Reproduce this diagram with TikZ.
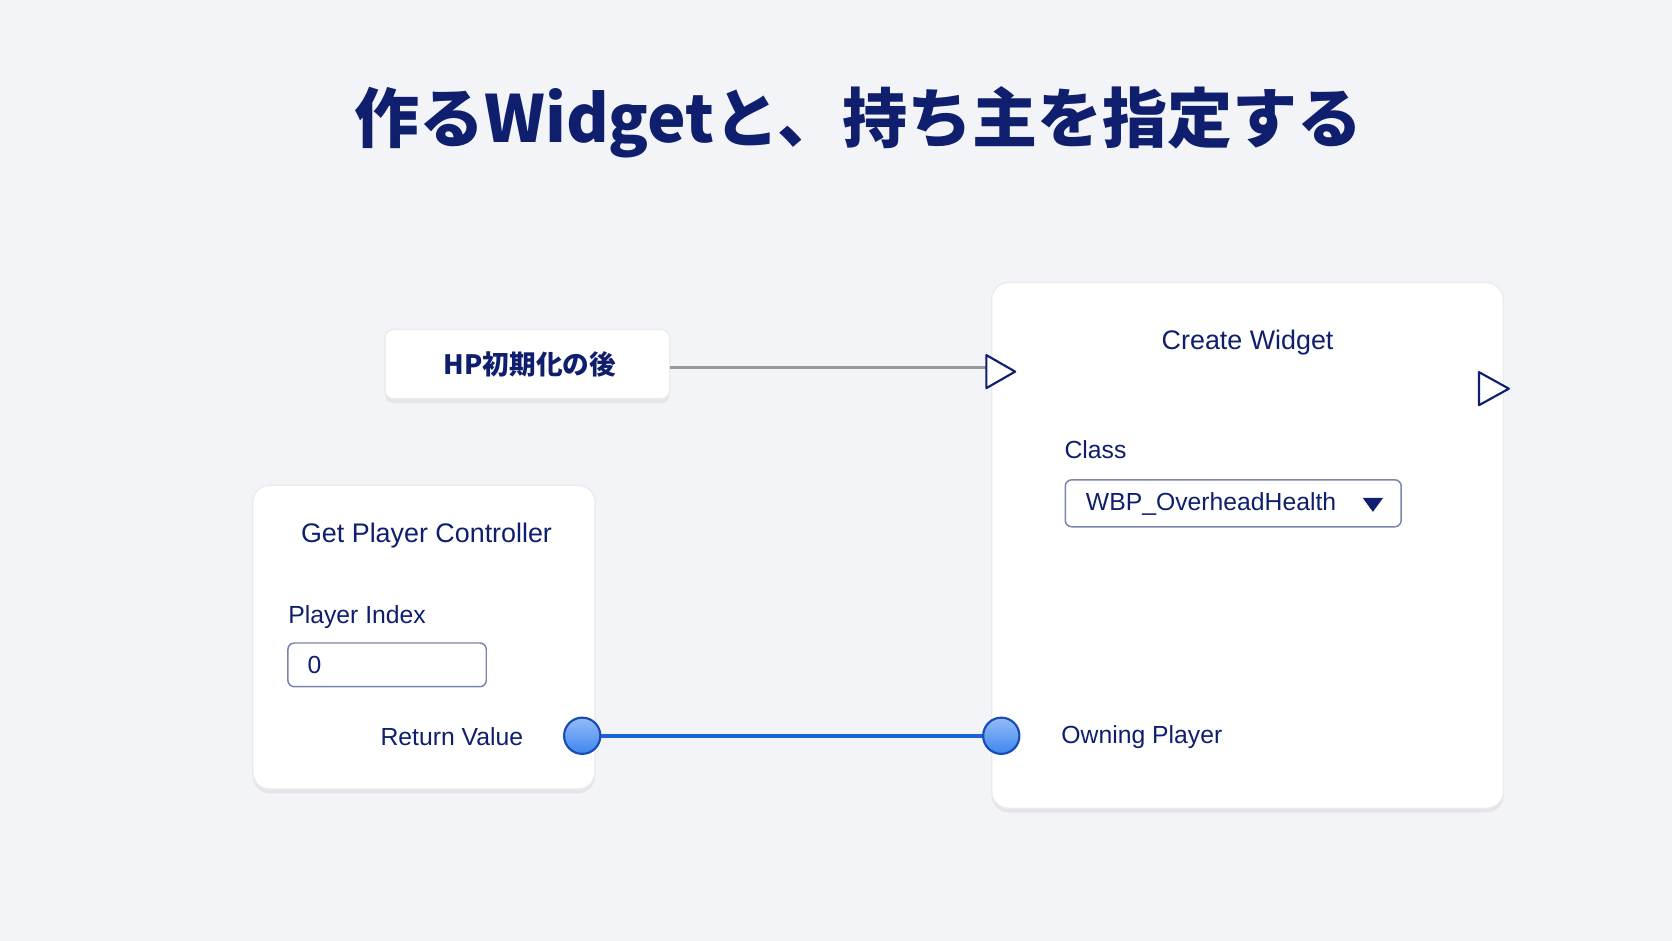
\documentclass[tikz,border=0pt]{standalone}
\usepackage{fontspec}
\setmainfont{Liberation Sans}
\newfontfamily\cjk{Noto Sans CJK JP}
\usetikzlibrary{shadows,shapes.geometric}
\definecolor{navy}{HTML}{0F1F6E}
\definecolor{bg}{HTML}{F3F4F7}
\definecolor{pinblue}{HTML}{3D86F0}
\definecolor{wireblue}{HTML}{1E5FE0}
\tikzset{
  card/.style={draw=black!8, fill=white, rounded corners=8pt, line width=0.6pt,
    drop shadow={shadow xshift=0pt, shadow yshift=-2pt, opacity=0.12}},
  lbl/.style={text=navy, font=\fontsize{11.6}{14}\selectfont, inner sep=0pt},
  ttl/.style={text=navy, font=\fontsize{12.6}{15}\selectfont, inner sep=0pt},
  field/.style={draw=navy!55, fill=white, rounded corners=3pt, line width=0.7pt},
  exec/.style={draw=navy, fill=white, line width=1pt, line join=round},
  pin/.style={circle, draw=wireblue!80!black, line width=1pt, top color=pinblue!55, bottom color=pinblue, minimum size=17pt, inner sep=0pt},
}
\begin{document}
\begin{tikzpicture}[x=0.5pt,y=-0.5pt]
\fill[bg] (0,0) rectangle (1568,882);
\useasboundingbox (0,0) rectangle (1568,882);
\node[text=navy, font=\cjk\bfseries\fontsize{30.5}{34}\selectfont] (title) at (805,115) {作るWidgetと、持ち主を指定する};

% HP node
\node[card, minimum width=133.5pt, minimum height=32.5pt, inner sep=0pt, rounded corners=4pt] (hp) at (494.5,341.5) {};
\node[text=navy, font=\cjk\bfseries\fontsize{12.5}{14}\selectfont] (hpt) at (497,342) {HP初期化の後};

% Create widget
\path[card] (930,265) rectangle (1410,758);
\node[ttl] (cwt) at (1170,321) {Create Widget};
\node[lbl, anchor=west] (cls) at (998,422) {Class};
\node[field, minimum width=157.5pt, minimum height=22pt] (dd) at (1156.5,472) {};
\node[lbl, anchor=west] (ddt) at (1018,473) {WBP\_OverheadHealth};
\fill[navy] (1278,467) -- (1297,467) -- (1287.5,480) -- cycle;
\coordinate (inx) at (925,345);
\draw[black!40, line width=1.5pt] (hp.east |- inx) -- (inx);
\draw[exec] (925,333) -- (925,364) -- (952,348.5) -- cycle;
\draw[exec] (1387,349) -- (1387,380) -- (1415,364.5) -- cycle;
\node[lbl, anchor=west] (ownt) at (995,691) {Owning Player};

% Get player controller
\path[card] (237,455) rectangle (558,740);
\node[ttl] (gpt) at (400,502) {Get Player Controller};
\node[lbl, anchor=west] (pit) at (270,579) {Player Index};
\node[field, minimum width=93pt, minimum height=20.5pt] (pib) at (363,623.5) {};
\node[lbl, anchor=west] (zero) at (288,624) {0};
\node[lbl, anchor=east] (rvt) at (491,691) {Return Value};

% wire and pins
\coordinate (rvc) at (546,690);
\coordinate (owc) at (939,690);
\draw[wireblue, line width=1.8pt] (rvc) -- (owc);
\node[pin] (rv) at (rvc) {};
\node[pin] (own) at (owc) {};
\end{tikzpicture}
\end{document}
